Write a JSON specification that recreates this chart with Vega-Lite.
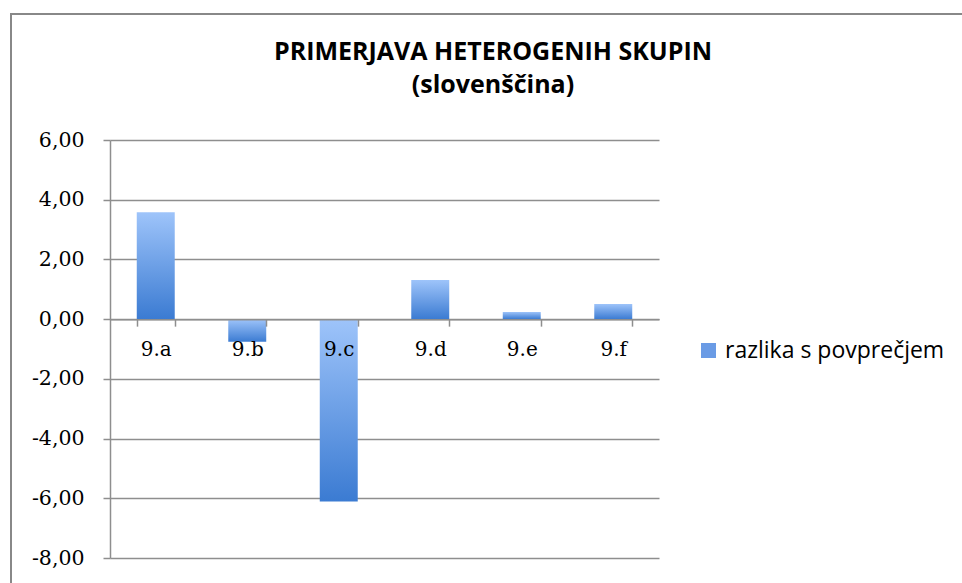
{
  "$schema": "https://vega.github.io/schema/vega-lite/v6.json",
  "width": 964,
  "height": 572,
  "autosize": "none",
  "padding": {"left": 11, "top": 14, "right": 0, "bottom": 0},
  "background": "white",
  "title": {
    "text": ["PRIMERJAVA HETEROGENIH SKUPIN", "(slovenščina)"],
    "font": "Open Sans",
    "fontSize": 25,
    "fontWeight": "bold",
    "color": "black",
    "anchor": "middle",
    "frame": "group",
    "baseline": "top",
    "offset": -84,
    "lineHeight": 33
  },
  "config": {"view": {"stroke": "#888888", "strokeWidth": 2}},
  "data": {
    "values": [
      {"razred": "9.a", "razlika": 3.58, "serija": "razlika s povprečjem"},
      {"razred": "9.b", "razlika": -0.76, "serija": "razlika s povprečjem"},
      {"razred": "9.c", "razlika": -6.11, "serija": "razlika s povprečjem"},
      {"razred": "9.d", "razlika": 1.31, "serija": "razlika s povprečjem"},
      {"razred": "9.e", "razlika": 0.24, "serija": "razlika s povprečjem"},
      {"razred": "9.f", "razlika": 0.51, "serija": "razlika s povprečjem"}
    ]
  },
  "encoding": {
    "x": {
      "field": "razred",
      "type": "nominal",
      "sort": null,
      "scale": {"range": [99, 648], "paddingInner": 0.585, "paddingOuter": 0.2925},
      "axis": {
        "title": null,
        "orient": "bottom",
        "offset": -266.86,
        "domainColor": "#8E8E8E",
        "domainWidth": 1.5,
        "tickColor": "#8E8E8E",
        "tickWidth": 1.5,
        "tickSize": 7,
        "tickBand": "extent",
        "labelFont": "DejaVu Serif",
        "labelFontSize": 20,
        "labelColor": "black",
        "labelAngle": 0,
        "labelPadding": 13,
        "labelBaseline": "top",
        "grid": false,
        "zindex": 1
      }
    },
    "y": {
      "field": "razlika",
      "type": "quantitative",
      "scale": {"domain": [-8, 6], "range": [544, 126], "nice": false},
      "axis": {
        "title": null,
        "values": [-8, -6, -4, -2, 0, 2, 4, 6],
        "offset": -99,
        "grid": true,
        "gridColor": "#8E8E8E",
        "gridWidth": 1.5,
        "domainColor": "#8E8E8E",
        "domainWidth": 1.5,
        "tickColor": "#8E8E8E",
        "tickWidth": 1.5,
        "tickSize": 7,
        "labelFont": "DejaVu Serif",
        "labelFontSize": 20.5,
        "labelColor": "black",
        "labelPadding": 19,
        "labelExpr": "(datum.value < 0 ? '-' : '') + replace(format(abs(datum.value), '.2f'), '.', ',')"
      }
    }
  },
  "layer": [
    {
      "mark": {"type": "bar", "opacity": 0},
      "encoding": {
        "fill": {
          "field": "serija",
          "type": "nominal",
          "scale": {"range": ["#6A9BE5"]},
          "legend": {
            "title": null,
            "orient": "none",
            "legendX": 686,
            "legendY": 325,
            "symbolType": "square",
            "symbolSize": 225,
            "symbolOpacity": 1,
            "symbolStrokeWidth": 0,
            "labelFont": "Open Sans",
            "labelFontSize": 23,
            "labelColor": "black",
            "labelOffset": 5,
            "labelLimit": 400
          }
        }
      }
    },
    {
      "mark": {
        "type": "bar",
        "fill": {
          "gradient": "linear", "x1": 0, "y1": 0, "x2": 0, "y2": 1,
          "stops": [{"offset": 0, "color": "#9EC4FA"}, {"offset": 1, "color": "#3B7BD2"}]
        }
      }
    }
  ]
}
